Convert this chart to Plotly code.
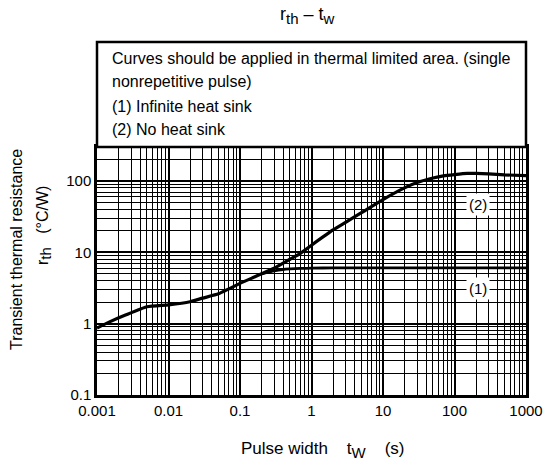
import plotly.graph_objects as go

# Curve (2): No heat sink
tw_2 = [0.001, 0.0015, 0.0025, 0.005, 0.01, 0.02, 0.03, 0.05, 0.07, 0.1, 0.15, 0.2, 0.3, 0.5, 0.7,
        1, 2, 3, 5, 10, 20, 30, 50, 70, 100, 150, 200, 300, 500, 1000]
rth_2 = [0.87, 1.06, 1.32, 1.73, 1.84, 2.03, 2.28, 2.62, 3.08, 3.67, 4.4, 5.0, 6.0, 8.0, 9.7,
         12.6, 20.6, 26.4, 36, 55, 80, 95, 110, 118, 123, 128, 128, 126, 122, 119]

# Curve (1): Infinite heat sink (branches off curve 2)
tw_1 = [0.2, 0.3, 0.4, 0.5, 0.7, 1, 2, 10, 100, 1000]
rth_1 = [5.0, 5.5, 5.75, 5.85, 5.95, 6.0, 6.05, 6.05, 6.05, 6.05]

x_ticks = [0.001, 0.01, 0.1, 1, 10, 100, 1000]
x_tick_labels = ["0.001", "0.01", "0.1", "1", "10", "100", "1000"]
y_ticks = [0.1, 1, 10, 100]
y_tick_labels = ["0.1", "1", "10", "100"]

note_lines = [
    "Curves should be applied in thermal limited area. (single",
    "nonrepetitive pulse)",
    "(1) Infinite heat sink",
    "(2) No heat sink",
]

FONT = "Arial, Liberation Sans, sans-serif"
W, H = 547, 468
L, R, T, B = 97, 21, 147, 73
plot_w = W - L - R
plot_h = H - T - B


def px_x(px):
    return (px - L) / plot_w


def px_y(py):
    return (T + plot_h - py) / plot_h


def sub(t, size):
    return "<sub><span style='font-size:%dpx'>%s</span></sub>" % (size, t)


fig = go.Figure()
fig.add_trace(go.Scatter(x=tw_2, y=rth_2, mode="lines",
                         line=dict(color="black", width=3.2, shape="spline", smoothing=0.5),
                         hoverinfo="skip", showlegend=False))
fig.add_trace(go.Scatter(x=tw_1, y=rth_1, mode="lines",
                         line=dict(color="black", width=2.8, shape="spline", smoothing=0.5),
                         hoverinfo="skip", showlegend=False))

axis_common = dict(
    type="log", showline=True, linecolor="black", linewidth=2.5, mirror=True,
    showgrid=True, gridcolor="black", gridwidth=1.5, automargin=False,
    ticks="", zeroline=False, ticklabeloverflow="allow",
    tickfont=dict(family=FONT, size=15, color="black"),
    minor=dict(showgrid=True, gridcolor="black", gridwidth=1, dtick="D1", ticks=""),
)

fig.update_xaxes(range=[-3, 3], tickvals=x_ticks, ticktext=x_tick_labels, **axis_common)
fig.update_yaxes(range=[-1, 2.477], tickvals=y_ticks, ticktext=y_tick_labels, **axis_common)

# Note box above the grid
fig.add_shape(type="rect", xref="paper", yref="paper", x0=0, x1=1, y0=1, y1=px_y(42),
              line=dict(color="black", width=2.5), fillcolor="white", layer="above")
line_px = [58, 82, 106, 129]
for txt, ypx in zip(note_lines, line_px):
    fig.add_annotation(xref="paper", yref="paper", x=px_x(111), y=px_y(ypx), text=txt,
                       showarrow=False, xanchor="left", yanchor="middle", borderpad=0,
                       font=dict(family=FONT, size=16, color="black"))

# Curve labels
for lbl, lx, ly in [("(2)", 2.33, 1.664), ("(1)", 2.33, 0.499)]:
    fig.add_annotation(x=lx, y=ly, xref="x", yref="y", text=lbl, showarrow=False,
                       bgcolor="white", borderpad=2, font=dict(family=FONT, size=15, color="black"))

# Title
fig.add_annotation(xref="paper", yref="paper", x=px_x(307), y=px_y(16),
                   text="r" + sub("th", 15) + " – t" + sub("w", 15), showarrow=False,
                   xanchor="center", yanchor="middle",
                   font=dict(family=FONT, size=18, color="black"))

# X axis title
fig.add_annotation(xref="paper", yref="paper", x=px_x(322), y=px_y(450),
                   text="Pulse width    t" + sub("W", 15) + "    (s)", showarrow=False,
                   xanchor="center", yanchor="middle",
                   font=dict(family=FONT, size=17, color="black"))

# Y axis titles
fig.add_annotation(xref="paper", yref="paper", x=px_x(16), y=px_y(250),
                   text="Transient thermal resistance", textangle=-90, showarrow=False,
                   xanchor="center", yanchor="middle",
                   font=dict(family=FONT, size=16, color="black"))
fig.add_annotation(xref="paper", yref="paper", x=px_x(44), y=px_y(226),
                   text="r" + sub("th", 15) + "   (°C/W)", textangle=-90, showarrow=False,
                   xanchor="center", yanchor="middle",
                   font=dict(family=FONT, size=16, color="black"))

fig.update_layout(width=W, height=H, margin=dict(l=L, r=R, t=T, b=B, autoexpand=False),
                  plot_bgcolor="white", paper_bgcolor="white", showlegend=False)

fig.write_html("out.html", config={"displayModeBar": False},
               post_script="document.body.style.margin='0';document.body.style.overflow='hidden';")
